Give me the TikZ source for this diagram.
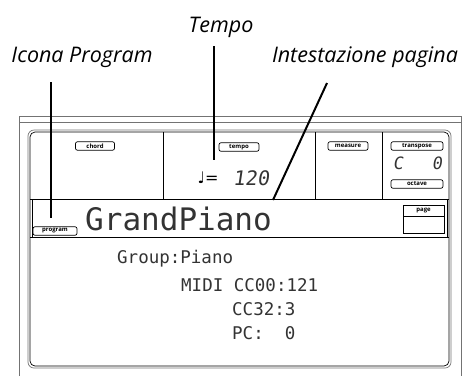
\documentclass[tikz,border=0pt]{standalone}
\usepackage{fontspec}
\setsansfont{Open Sans}
\newfontfamily\lcdfont{DejaVu Sans Mono}
\newfontfamily\segfont[FakeSlant=0.15]{DejaVu Sans Mono}
\newfontfamily\notefont{DejaVu Sans}
\usetikzlibrary{positioning}

\begin{document}
\begin{tikzpicture}[x=1pt,y=-1pt,
		callout/.style={font=\sffamily\itshape\fontsize{21.5}{21.5}\selectfont,inner sep=0pt},
		leader/.style={line width=2pt},
		frame/.style={draw=black!55,line width=0.8pt},
		lcd/.style={font=\lcdfont\fontsize{17.5}{17.5}\selectfont,text=black!80,inner sep=0pt,anchor=west},
		btn/.style={draw,rounded corners=2pt,line width=0.7pt,minimum height=8.5pt,inner sep=0pt,
			font=\sffamily\bfseries\fontsize{6}{6}\selectfont}]
			
			\useasboundingbox (0,0) rectangle (465,376);
			
			% Outer frame
			\draw[frame] (19,376) -- (19,116) -- (461,116) -- (461,376);
			\draw[frame] (19,122) -- (461,122);
			
			% Screen
			\draw[draw=black!55,line width=0.7pt,rounded corners=6pt] (28,130) rectangle (451,368);
			\draw[line width=0.7pt,rounded corners=5pt] (30,132) rectangle (449,366);
			\draw[line width=0.7pt] (30,199) -- (449,199);
			\draw[line width=0.7pt] (30,237) -- (449,237);
			\draw[line width=0.7pt] (163,132) -- (163,199);
			\draw[line width=0.7pt] (315,132) -- (315,199);
			\draw[line width=0.7pt] (382,132) -- (382,199);
			\draw[line width=0.7pt] (32,199) -- (32,237);
			\draw[line width=0.7pt] (447,199) -- (447,237);
			
			% Buttons
			\node[btn,minimum width=39pt] (chord) at (95,146) {chord};
			\node[btn,minimum width=40pt] (tempo) at (239,147) {tempo};
			\node[btn,minimum width=40pt] (measure) at (348,146) {measure};
			\node[btn,minimum width=52pt] (transpose) at (417,146) {transpose};
			\node[btn,minimum width=52pt] (octave) at (417,184) {octave};
			\node[btn,minimum width=44pt] (program) at (55,231) {program};
			\node[draw,line width=0.7pt,minimum width=41pt,minimum height=28pt,inner sep=0pt] (pagebox) at (423.5,219) {};
			\node[btn,rounded corners=0pt,minimum width=41pt,minimum height=11pt,anchor=north] (page) at (pagebox.north) {page};
			
			% Tempo and transpose values
			\node[font=\notefont\fontsize{16}{16}\selectfont,inner sep=0pt] (note) at (208,178) {♩=};
			\node[font=\segfont\fontsize{20}{20}\selectfont,text=black!80,inner sep=0pt] (bpm) at (251,178) {120};
			\node[font=\segfont\fontsize{17}{17}\selectfont,text=black!80,inner sep=0pt] (key) at (398,163) {C};
			\node[font=\segfont\fontsize{17}{17}\selectfont,text=black!80,inner sep=0pt] (oct) at (437,163) {0};
			
			% LCD text
			\node[lcd,font=\lcdfont\fontsize{31}{31}\selectfont] (name) at (85,219) {GrandPiano};
			\node[lcd] (group) at (117,259) {Group:Piano};
			\node[lcd] (midi) at (181,285) {MIDI CC00:121};
			\node[lcd] (cc32) at (232,309) {CC32:3};
			\node[lcd] (pc) at (232,333) {PC:\ \ 0};
			
			% Callouts
			\node[callout] (iconlbl) at (82,57) {Icona Program};
			\node[callout] (tempolbl) at (221,27) {Tempo};
			\node[callout] (headlbl) at (365,57) {Intestazione pagina};
			\coordinate (iconA) at (51,82);
			\coordinate (iconB) at (51,218);
			\coordinate (tempoA) at (214,46);
			\coordinate (tempoB) at (214,160);
			\coordinate (headA) at (327,83);
			\coordinate (headB) at (273,200);
			\draw[leader] (iconA) -- (iconB);
			\draw[leader] (tempoA) -- (tempoB);
			\draw[leader] (headA) -- (headB);
			
		\end{tikzpicture}
\end{document}
